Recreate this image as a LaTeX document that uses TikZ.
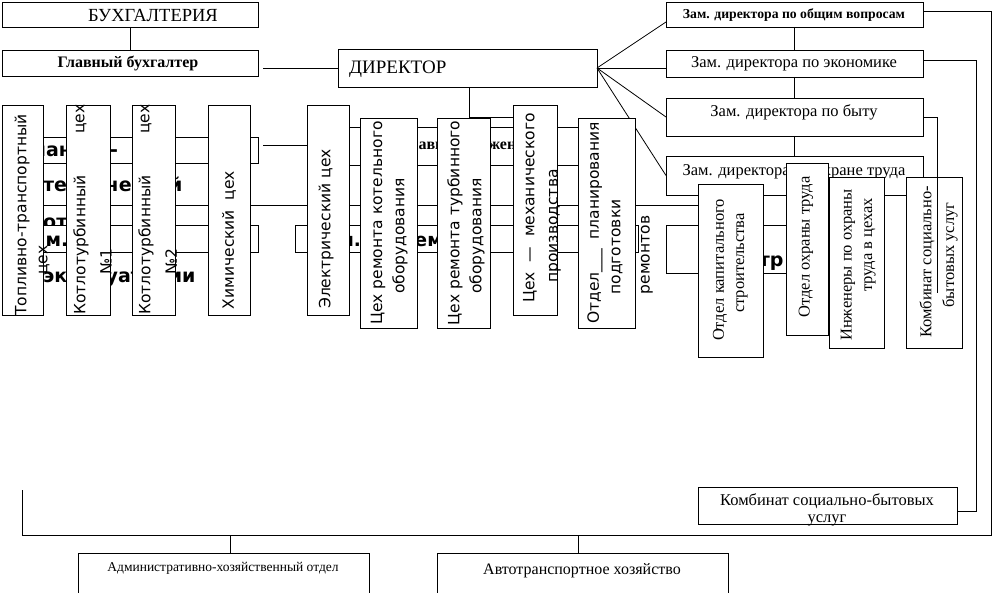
\documentclass[tikz,border=0pt]{standalone}
\usepackage{fontspec}
\setmainfont{Liberation Serif}
\newfontfamily\dv{DejaVu Sans}
\usetikzlibrary{calc}
\tikzset{
  box/.style={draw=black, line width=0.8pt, fill=white, inner sep=0pt, outer sep=0pt},
  ln/.style={draw=black, line width=0.8pt},
  vt/.style={rotate=90, inner sep=0pt, font=\dv\fontsize{15.5}{17}\selectfont},
  vs/.style={rotate=90, inner sep=0pt, font=\fontsize{16.5}{18}\selectfont},
  bsans/.style={inner sep=0pt, anchor=base west, font=\dv\bfseries\fontsize{19}{22}\selectfont},
  hs/.style={inner sep=0pt, font=\fontsize{16.5}{18}\selectfont},
}
\newcommand\bx[5]{\node[box, minimum width={#4pt-#2pt}, minimum height={#5pt-#3pt}] (#1) at ({(#2+#4)/2},{(#3+#5)/2}) {};}
\begin{document}
\begin{tikzpicture}[x=1pt,y=-1pt]
\useasboundingbox (0,0) rectangle (993,593);
\fill[white] (0,0) rectangle (993,593);
% ---------- hidden background layer ----------
\coordinate (busL) at (22,205);
\coordinate (busR) at (698,205);
\draw[ln] (busL) -- (busR);
\bx{pto}{2}{137}{258}{163}
\node[bsans] (ptoa) at (16,157) {Планово-};
\node[bsans] (ptob) at (43,192) {технический};
\node[bsans] (ptoc) at (43,229) {отдел};
\coordinate (ptoE) at (263,145);
\coordinate (elW) at (307,145);
\draw[ln] (ptoE) -- (elW);
\bx{zexp}{2}{225}{258}{252}
\node[bsans] (zexpa) at (19,247) {Зам.};
\node[bsans] (zexpb) at (43,283) {эксплуатации};
\bx{zrem}{295}{225}{638}{252}
\node[bsans, font=\dv\bfseries\fontsize{18.5}{22}\selectfont] (zrema) at (313,247) {Зам. по ремонту};
\bx{gi}{320}{127}{620}{165}
\node[inner sep=0pt, anchor=base west, font=\bfseries\fontsize{16}{18}\selectfont] (gia) at (401,150) {Главный инженер};
\bx{ctr}{666}{225}{790}{273}
\node[bsans] (ctra) at (715,267) {Центр};
% ---------- top part ----------
\bx{buh}{2}{2}{258}{27}
\node[inner sep=0pt, font=\fontsize{18.5}{20}\selectfont] (buht) at (153,15) {БУХГАЛТЕРИЯ};
\bx{gb}{2}{50}{258}{76}
\node[inner sep=0pt, font=\bfseries\fontsize{16}{18}\selectfont] (gbt) at (128,64) {Главный бухгалтер};
\draw[ln] (buh.south) -- (gb.north);
\bx{dir}{338}{49}{597}{87}
\node[inner sep=0pt, anchor=base west, font=\fontsize{19}{22}\selectfont] (dirt) at (349,74) {ДИРЕКТОР};
\coordinate (gbR) at (263,68);
\draw[ln] (gbR) -- (dir.west);
\coordinate (dirdown) at (469,117);
\coordinate (mexTop) at (513,117);
\draw[ln] (dir.south -| dirdown) -- (dirdown) -- (mexTop);
\bx{z1}{666}{2}{923}{27}
\node[inner sep=0pt, font=\bfseries\fontsize{13.7}{15}\selectfont] (z1t) at (794,15) {Зам. директора по общим вопросам};
\bx{z2}{666}{50}{923}{77}
\node[hs] (z2t) at (794,64) {Зам. директора по экономике};
\bx{z3}{666}{98}{923}{136}
\node[hs] (z3t) at (794,112) {Зам. директора по быту};
\bx{z4}{666}{156}{923}{195}
\node[hs] (z4t) at (794,172) {Зам. директора по охране труда};
\draw[ln] (z1.south) -- (z2.north);
\draw[ln] (z2.south) -- (z3.north);
\draw[ln] (z3.south) -- (z4.north);
\draw[ln] (dir.east) -- ([yshift=-7.5pt]z1.west);
\draw[ln] (dir.east) -- (dir.east -| z2.west);
\draw[ln] (dir.east) -- (z3.west);
\draw[ln] (dir.east) -- (z4.west);
% ---------- vertical boxes ----------
\bx{top}{2}{105}{43}{315}
\node[vt] (topa) at (22,215) {Топливно-транспортный};
\node[vt] (topb) at (44,260) {цех};
\bx{kt1}{66}{105}{110}{315}
\node[vt] (kt1a) at (81,245) {Котлотурбинный};
\node[vt] (kt1b) at (81,119) {цех};
\node[vt] (kt1c) at (106,262) {№1};
\bx{kt2}{132}{105}{175}{315}
\node[vt] (kt2a) at (146,245) {Котлотурбинный};
\node[vt] (kt2b) at (146,119) {цех};
\node[vt] (kt2c) at (171,262) {№2};
\bx{him}{208}{105}{250}{315}
\node[vt] (hima) at (229,240) {Химический\ \ цех};
\bx{el}{307}{105}{349}{315}
\node[vt] (ela) at (326,229) {Электрический цех};
\bx{rk}{360}{118}{417}{328}
\node[vt] (rka) at (378,223) {Цех ремонта котельного};
\node[vt] (rkb) at (400,236) {оборудования};
\bx{rt}{437}{118}{490}{328}
\node[vt] (rta) at (455,223) {Цех ремонта турбинного};
\node[vt] (rtb) at (477,236) {оборудования};
\bx{mex}{513}{105}{557}{315}
\node[vt] (mexa) at (530,208) {Цех\ \ —\ \ механического};
\bx{opr}{578}{118}{635}{328}
\node[vt] (mexb) at (555,226) {производства};
\node[vt] (opra) at (595,223) {Отдел\_\_\_\ \ планирования};
\node[vt] (oprb) at (617,247) {подготовки};
\node[vt] (oprc) at (647,255) {ремонтов};
\bx{oks}{698}{184}{763}{357}
\node[vs] (oksa) at (720,270) {Отдел капитального};
\node[vs] (oksb) at (742,263) {строительства};
\bx{oot}{786}{163}{828}{335}
\node[vs] (oota) at (806,247) {Отдел охраны труда};
\bx{iot}{829}{177}{884}{348}
\node[vs] (iota) at (848,265) {Инженеры по охраны};
\node[vs] (iotb) at (870,245) {труда в цехах};
\bx{ksv}{906}{177}{962}{348}
\node[vs] (ksva) at (927,262) {Комбинат социально-};
\node[vs] (ksvb) at (950,255) {бытовых услуг};
% ---------- right connectors ----------
\coordinate (r1) at (991,11);
\coordinate (r2) at (976,60);
\coordinate (r3) at (937,117);
\coordinate (r3e) at (937,293);
\coordinate (busB) at (991,535);
\coordinate (busBL) at (22,535);
\coordinate (topEnd) at (22,490);
\draw[ln] ([yshift=3.5pt]z1.east) -- (r1) -- (busB) -- (busBL) -- (topEnd);
\bx{kb}{698}{487}{957}{524}
\node[inner sep=0pt, font=\fontsize{16.5}{18}\selectfont] (kba) at (827,501) {Комбинат социально-бытовых};
\node[inner sep=0pt, font=\fontsize{16.5}{18}\selectfont] (kbb) at (827,520) {услуг};
\draw[ln] ([yshift=3.5pt]z2.east) -- (r2) -- (r2 |- 0,511) -- (kb.east |- 0,511);
\draw[ln] (z3.east) -- (r3) -- (r3e);
% ---------- bottom ----------
\bx{ahz}{78}{553}{369}{600}
\node[inner sep=0pt, font=\fontsize{13.5}{16}\selectfont] (ahzt) at (223,568) {Административно-хозяйственный отдел};
\bx{ath}{437}{553}{728}{600}
\node[inner sep=0pt, font=\fontsize{16}{18}\selectfont] (atht) at (582,571) {Автотранспортное хозяйство};
\coordinate (b1) at (230,535);
\coordinate (b2) at (578,535);
\draw[ln] (b1) -- (b1 |- ahz.north);
\draw[ln] (b2) -- (b2 |- ath.north);
\end{tikzpicture}
\end{document}
